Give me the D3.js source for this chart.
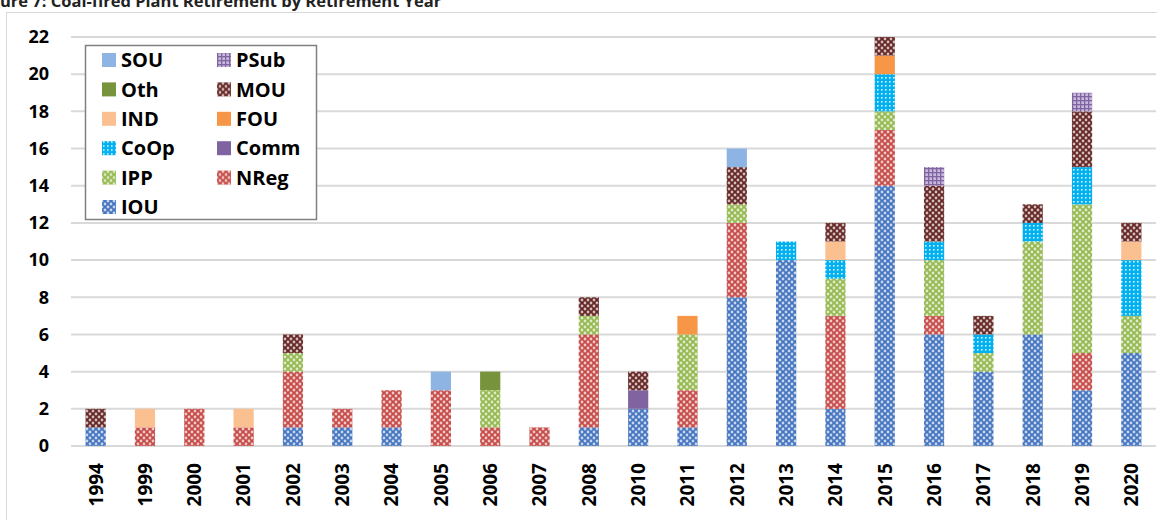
<!DOCTYPE html>
<html>
<head>
<meta charset="utf-8">
<script src="https://cdn.jsdelivr.net/npm/d3@7"></script>
<style>
  body { margin: 0; background: #fff; }
  svg { display: block; font-family: "Open Sans", sans-serif; }
</style>
</head>
<body>
<svg id="chart" width="1157" height="520"></svg>
<script>
const years = ["1994", "1999", "2000", "2001", "2002", "2003", "2004", "2005", "2006", "2007", "2008",
  "2010", "2011", "2012", "2013", "2014", "2015", "2016", "2017", "2018", "2019", "2020"];

// series, bottom of the stack first
const IOU  = [1, 0, 0, 0, 1, 1, 1, 0, 0, 0, 1, 2, 1, 8, 10, 2, 14, 6, 4, 6, 3, 5];
const NReg = [0, 1, 2, 1, 3, 1, 2, 3, 1, 1, 5, 0, 2, 4, 0, 5, 3, 1, 0, 0, 2, 0];
const IPP  = [0, 0, 0, 0, 1, 0, 0, 0, 2, 0, 1, 0, 3, 1, 0, 2, 1, 3, 1, 5, 8, 2];
const Comm = [0, 0, 0, 0, 0, 0, 0, 0, 0, 0, 0, 1, 0, 0, 0, 0, 0, 0, 0, 0, 0, 0];
const CoOp = [0, 0, 0, 0, 0, 0, 0, 0, 0, 0, 0, 0, 0, 0, 1, 1, 2, 1, 1, 1, 2, 3];
const FOU  = [0, 0, 0, 0, 0, 0, 0, 0, 0, 0, 0, 0, 1, 0, 0, 0, 1, 0, 0, 0, 0, 0];
const IND  = [0, 1, 0, 1, 0, 0, 0, 0, 0, 0, 0, 0, 0, 0, 0, 1, 0, 0, 0, 0, 0, 1];
const MOU  = [1, 0, 0, 0, 1, 0, 0, 0, 0, 0, 1, 1, 0, 2, 0, 1, 1, 3, 1, 1, 3, 1];
const Oth  = [0, 0, 0, 0, 0, 0, 0, 0, 1, 0, 0, 0, 0, 0, 0, 0, 0, 0, 0, 0, 0, 0];
const PSub = [0, 0, 0, 0, 0, 0, 0, 0, 0, 0, 0, 0, 0, 0, 0, 0, 0, 1, 0, 0, 1, 0];
const SOU  = [0, 0, 0, 0, 0, 0, 0, 1, 0, 0, 0, 0, 0, 1, 0, 0, 0, 0, 0, 0, 0, 0];

const seriesNames = ["IOU", "NReg", "IPP", "Comm", "CoOp", "FOU", "IND", "MOU", "Oth", "PSub", "SOU"];
const seriesValues = [IOU, NReg, IPP, Comm, CoOp, FOU, IND, MOU, Oth, PSub, SOU];
const yTicks = [0, 2, 4, 6, 8, 10, 12, 14, 16, 18, 20, 22];

const fills = {
  IOU:  { color: "#4575c0", kind: "lattice" },
  NReg: { color: "#c64b48", kind: "lattice" },
  IPP:  { color: "#95b950", kind: "lattice" },
  MOU:  { color: "#652624", kind: "lattice" },
  CoOp: { color: "#00b0f0", kind: "dots" },
  PSub: { color: "#8064a2", kind: "grid" },
  Comm: { color: "#8064a2" },
  FOU:  { color: "#f79646" },
  IND:  { color: "#fac090" },
  Oth:  { color: "#77933c" },
  SOU:  { color: "#8eb4e3" }
};

const svg = d3.select("#chart");
const defs = svg.append("defs");

// texture fills
Object.entries(fills).forEach(([name, f]) => {
  if (!f.kind) { f.paint = f.color; return; }
  const p = defs.append("pattern").attr("id", "pat-" + name).attr("patternUnits", "userSpaceOnUse");
  if (f.kind === "lattice") {
    p.attr("width", 6).attr("height", 6);
    p.append("rect").attr("width", 6).attr("height", 6).attr("fill", f.color);
    [[0, 0], [6, 0], [0, 6], [6, 6], [3, 3]].forEach(([cx, cy]) => {
      p.append("circle").attr("cx", cx).attr("cy", cy).attr("r", 1.4).attr("fill", "#fff").attr("opacity", 0.7);
    });
  } else if (f.kind === "dots") {
    p.attr("width", 4).attr("height", 4);
    p.append("rect").attr("width", 4).attr("height", 4).attr("fill", f.color);
    p.append("rect").attr("x", 1).attr("y", 1).attr("width", 1.6).attr("height", 1.6).attr("fill", "#fff").attr("opacity", 0.85);
  } else {
    p.attr("width", 4).attr("height", 4);
    p.append("rect").attr("width", 4).attr("height", 4).attr("fill", "#c7b9dc");
    p.append("rect").attr("width", 4).attr("height", 1.3).attr("fill", f.color);
    p.append("rect").attr("width", 1.3).attr("height", 4).attr("fill", f.color);
  }
  f.paint = "url(#pat-" + name + ")";
});

// chart frame
svg.append("rect")
  .attr("x", 6.5).attr("y", 12.5)
  .attr("width", 1200).attr("height", 600)
  .attr("fill", "none").attr("stroke", "#d9d9d9");

// title, cut at the top like the source
const title = svg.append("text")
  .attr("y", 7)
  .attr("font-size", 16.5).attr("font-weight", "bold").attr("fill", "#222")
  .text("Figure 7: Coal-fired Plant Retirement by Retirement Year");
const probe = svg.append("text").attr("font-size", 16.5).attr("font-weight", "bold").text("Fig");
title.attr("x", -probe.node().getComputedTextLength());
probe.remove();

const x = d3.scaleBand()
  .domain(years)
  .range([71, 1156])
  .paddingInner(0.59)
  .paddingOuter(0.295);

const y = d3.scaleLinear().domain([0, 22]).range([446, 37]);

// gridlines
svg.append("g")
  .selectAll("line")
  .data(yTicks)
  .join("line")
  .attr("x1", 71).attr("x2", 1156)
  .attr("y1", (d) => y(d)).attr("y2", (d) => y(d))
  .attr("stroke", "#d9d9d9").attr("stroke-width", 2);

// y axis labels
const yAxis = svg.append("g")
  .attr("transform", "translate(71,0)")
  .call(d3.axisLeft(y).tickValues(yTicks).tickSize(0).tickPadding(22));
yAxis.select(".domain").remove();
yAxis.selectAll("text")
  .attr("font-family", "Open Sans, sans-serif")
  .attr("font-size", 18).attr("font-weight", "bold").attr("fill", "#000");

// stacked bars
const rows = years.map((yr, i) => {
  const row = { year: yr };
  seriesNames.forEach((s, j) => { row[s] = seriesValues[j][i]; });
  return row;
});
const stacked = d3.stack().keys(seriesNames)(rows);

svg.append("g")
  .selectAll("g")
  .data(stacked)
  .join("g")
  .attr("fill", (d) => fills[d.key].paint)
  .selectAll("rect")
  .data((d) => d.filter((v) => v[1] > v[0]))
  .join("rect")
  .attr("x", (d) => x(d.data.year))
  .attr("width", x.bandwidth())
  .attr("y", (d) => y(d[1]))
  .attr("height", (d) => y(d[0]) - y(d[1]));

// x axis labels
const xAxis = svg.append("g")
  .attr("transform", "translate(0,446)")
  .call(d3.axisBottom(x).tickSize(0).tickPadding(0));
xAxis.select(".domain").remove();
xAxis.selectAll("text")
  .attr("font-family", "Open Sans, sans-serif")
  .attr("font-size", 19).attr("font-weight", "bold").attr("fill", "#000")
  .attr("text-anchor", "end")
  .attr("transform", "translate(0,17) rotate(-90)")
  .attr("x", 0).attr("y", 0).attr("dy", "0.36em");

// legend
const legend = svg.append("g");
legend.append("rect")
  .attr("x", 85.5).attr("y", 45.5)
  .attr("width", 231).attr("height", 174)
  .attr("fill", "#fff").attr("stroke", "#808080").attr("stroke-width", 1.5);

const legendOrder = seriesNames.slice().reverse();
const item = legend.selectAll("g.item")
  .data(legendOrder)
  .join("g")
  .attr("class", "item")
  .attr("transform", (d, i) => `translate(${i % 2 === 0 ? 102 : 217},${60 + Math.floor(i / 2) * 29.4})`);
item.append("rect")
  .attr("x", 0).attr("y", -7).attr("width", 14).attr("height", 14)
  .attr("fill", (d) => fills[d].paint);
item.append("text")
  .attr("x", 19).attr("dy", "0.36em")
  .attr("font-size", 20).attr("font-weight", "bold").attr("fill", "#000")
  .text((d) => d);
</script>
</body>
</html>
